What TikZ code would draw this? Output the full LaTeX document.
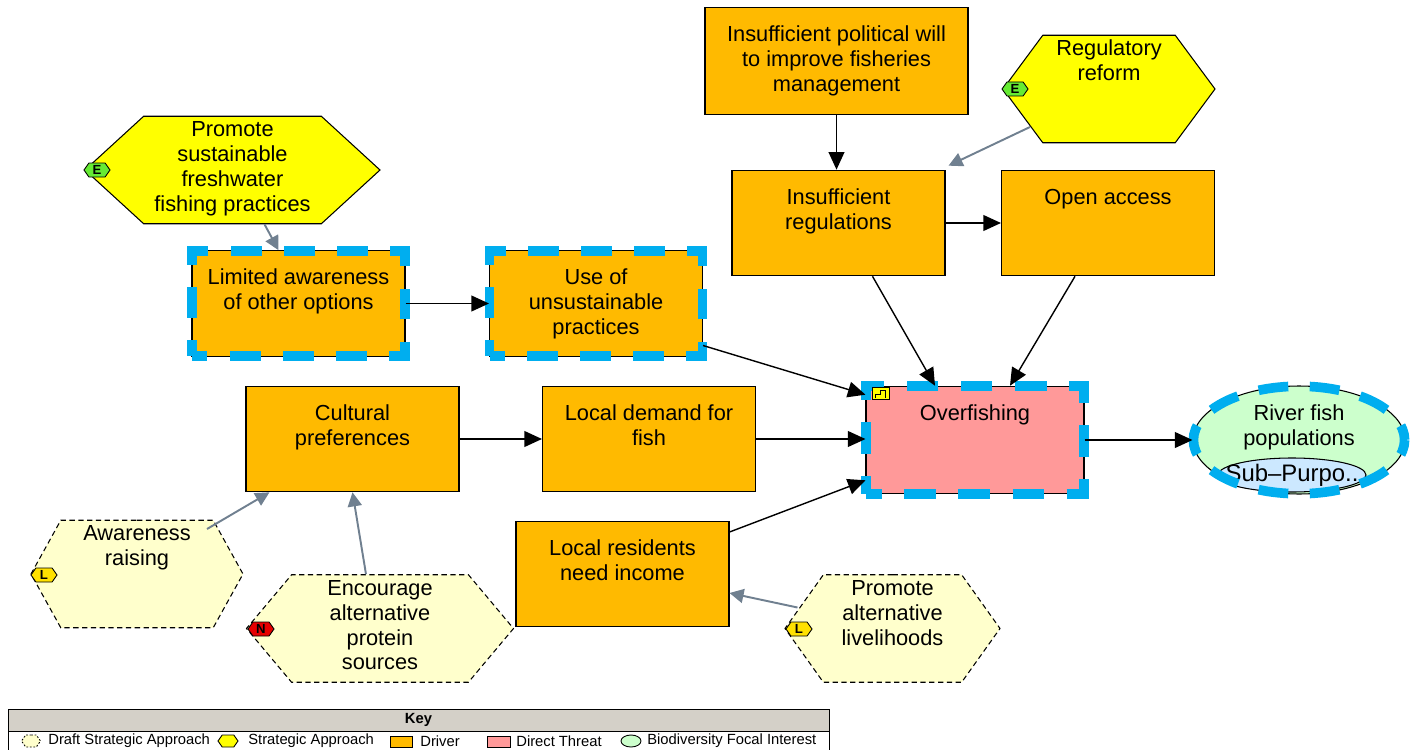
\documentclass[tikz,border=0pt]{standalone}
\usepackage{fontspec}
\setmainfont{Liberation Sans}
\usepackage{tikz}
\usetikzlibrary{arrows.meta, positioning, shapes.geometric, shapes.symbols}
\definecolor{cmdriver}{RGB}{255, 186, 0}
\definecolor{cmthreat}{RGB}{255, 153, 153}
\definecolor{cmstrategy}{RGB}{255, 255, 0}
\definecolor{cmdraft}{RGB}{255, 255, 204}
\definecolor{cmfocal}{RGB}{204, 255, 204}
\definecolor{cmsub}{RGB}{204, 232, 255}
\definecolor{cmselect}{RGB}{0, 174, 239}
\definecolor{cmlink}{RGB}{112, 128, 144}
\definecolor{cmkey}{RGB}{212, 208, 200}
\definecolor{cmgreen}{RGB}{102, 235, 51}
\definecolor{cmred}{RGB}{230, 0, 0}
\definecolor{cmbadge}{RGB}{255, 225, 0}
\newcommand{\pxl}{0.02cm}

\begin{document}
\begin{tikzpicture}[x=0.02cm, y=-0.02cm,
    txt/.style={font=\fontsize{12.4}{14.2}\selectfont, align=center},
    driver/.style={txt, rectangle, draw, line width=0.6pt, fill=cmdriver,
        minimum width=213*\pxl, inner xsep=2pt, inner ysep=0pt,
        text height={19.3pt+(#1-1)*14.2pt}, text depth={40.8pt-(#1-1)*14.2pt}},
    driver/.default=1,
    threat/.style={driver, fill=cmthreat, minimum width=218*\pxl, text depth=41.9pt},
    selband/.style={draw=cmselect, line width=5.5pt},
    selected/.style={postaction={selband, dash pattern=on 17.6pt off 12.6pt, dash phase=8.8pt}},
    hexa/.style={txt, signal, signal to=west and east, draw, line width=0.6pt,
        inner xsep=2pt, inner ysep=0pt,
        text height={11.6pt+(#1-1)*14.2pt}, text depth={49.6pt-(#1-1)*14.2pt}},
    strategy/.style={hexa=#1, fill=cmstrategy},
    draft/.style={hexa=#1, fill=cmdraft, dash pattern=on 3pt off 2pt},
    badge/.style={signal, signal to=west and east, signal pointer angle=110,
        draw, line width=0.5pt, minimum width=26*\pxl, minimum height=14*\pxl,
        inner sep=0pt, font=\fontsize{7.5}{7.5}\selectfont\bfseries},
    focal/.style={txt, ellipse, draw, line width=0.6pt, fill=cmfocal,
        minimum width=212*\pxl, minimum height=108*\pxl, inner sep=0pt,
        text height=23.2pt, text depth=17.5pt},
    link/.style={-{Triangle[length=10pt, width=9pt]}, line width=0.8pt},
    weaklink/.style={-{Triangle[length=8pt, width=8pt]}, line width=1.1pt, color=cmlink},
    keytxt/.style={font=\fontsize{8.4}{9}\selectfont, anchor=west, inner sep=0pt}
]
\useasboundingbox (0,0) rectangle (1416,750);

% Drivers and threat
\node[driver=3, minimum width=263*\pxl, text depth=13.5pt] (will) at (836.5,61) {Insufficient political will\\to improve fisheries\\management};
\node[driver=2] (regs) at (838.5,223) {Insufficient\\regulations};
\node[driver] (open) at (1108,223) {Open access};
\node[driver=2, selected] (aware) at (298.5,303.5) {Limited awareness\\of other options};
\node[driver=3, selected] (practice) at (596,303.5) {Use of\\unsustainable\\practices};
\node[driver=2] (culture) at (352.5,439) {Cultural\\preferences};
\node[driver=2] (demand) at (649,439) {Local demand for\\fish};
\node[threat, postaction={selband, dash pattern=on 18pt off 12.8pt, dash phase=9pt}] (over) at (975,440) {Overfishing};
\node[driver=2] (income) at (622.5,574) {Local residents\\need income};

% Threat rating flag
\node[draw, fill=cmstrategy, line width=0.4pt, minimum width=17*\pxl, minimum height=12*\pxl, inner sep=0pt] (hflag) at (881,393) {};
\draw[line width=0.5pt] ([shift={(3,-1)}]hflag.south west) -- ++(0,-4) -- ++(5,0) -- ++(0,-4) -- ++(5,0) -- ++(0,8);

% Focal interest
\node[focal] (river) at (1299,440) {River fish\\populations};
\node[ellipse, draw, line width=0.6pt, fill=cmsub, minimum width=148*\pxl, minimum height=34*\pxl, inner sep=0pt, font=\fontsize{13.6}{14}\selectfont] (sub) at (1292,475) {\makebox[0pt]{Sub–Purpo..}};
\draw[selband, dash pattern=on 17pt off 12.25pt, dash phase=8.5pt] (river.center) ellipse [x radius=60.1pt, y radius=30.6pt];

% Strategies
\node[strategy=2, minimum width=212*\pxl, signal pointer angle=107] (reform) at (1109,89) {Regulatory\\reform};
\node[strategy=4, minimum width=295*\pxl, signal pointer angle=85] (fishing) at (232.5,170) {Promote\\sustainable\\freshwater\\fishing practices};
\node[draft=2, minimum width=212*\pxl, signal pointer angle=122] (raising) at (137,574) {Awareness\\raising};
\node[draft=4, minimum width=267*\pxl, signal pointer angle=100] (protein) at (380,628.5) {Encourage\\alternative\\protein\\sources};
\node[draft=3, minimum width=215*\pxl, signal pointer angle=109] (livelihood) at (892.5,628.5) {Promote\\alternative\\livelihoods};

% Badges
\node[badge, fill=cmgreen] (bfishing) at (97,170) {E};
\node[badge, fill=cmgreen] (breform) at (1015,89) {E};
\node[badge, fill=cmbadge] (braising) at (44,575) {L};
\node[badge, fill=cmred] (bprotein) at (261,629) {N};
\node[badge, fill=cmbadge] (blivelihood) at (799,629) {L};

% Links
\draw[link] (will.south) -- (will.south |- regs.north);
\draw[link] (regs) -- (open);
\draw[link] (aware) -- (practice);
\draw[link] ([shift={(0,42)}]practice.east) -- ([shift={(0,9)}]over.north west);
\draw[link] ([shift={(34,0)}]regs.south) -- ([shift={(-40,0)}]over.north);
\draw[link] ([shift={(-33,0)}]open.south) -- ([shift={(35,0)}]over.north);
\draw[link] (culture) -- (demand);
\draw[link] (demand) -- (demand -| over.west);
\draw[link] ([shift={(0,-42)}]income.east) -- ([shift={(0,-14)}]over.south west);
\draw[link] (over) -- (river);
\draw[weaklink] ([shift={(-79,38)}]reform.center) -- ([shift={(3,-4)}]regs.north east);
\draw[weaklink] ([shift={(32,0)}]fishing.south) -- ([shift={(-20,0)}]aware.north);
\draw[weaklink] ([shift={(70,-45)}]raising.center) -- ([shift={(24,0)}]culture.south west);
\draw[weaklink] ([shift={(-14,0)}]protein.north) -- (culture.south);
\draw[weaklink] ([shift={(-95,-21)}]livelihood.center) -- ([shift={(0,19)}]income.east);

% Key
\node[draw, fill=cmkey, line width=0.5pt, minimum width=821*\pxl, minimum height=22*\pxl, inner sep=0pt, font=\fontsize{8.4}{9}\selectfont\bfseries] (keyhead) at (418.5,720) {Key};
\node[draw, fill=white, line width=0.5pt, minimum width=821*\pxl, minimum height=22*\pxl, inner sep=0pt, anchor=north] (keyrow) at (keyhead.south) {};
\node[badge, fill=cmdraft, dash pattern=on 1pt off 1pt, minimum width=19*\pxl, minimum height=12*\pxl] (kdraft) at (31,741) {};
\node[keytxt] (kdrafttxt) at (48,741) {Draft Strategic Approach};
\node[badge, fill=cmstrategy, minimum width=20*\pxl, minimum height=12*\pxl] (kstrat) at (228,741) {};
\node[keytxt] (kstrattxt) at (248,741) {Strategic Approach};
\node[draw, fill=cmdriver, line width=0.5pt, minimum width=22*\pxl, minimum height=11*\pxl, inner sep=0pt] (kdriver) at (401,741.5) {};
\node[keytxt] (kdrivertxt) at (420,741) {Driver};
\node[draw, fill=cmthreat, line width=0.5pt, minimum width=23*\pxl, minimum height=11*\pxl, inner sep=0pt] (kthreat) at (498.5,741.5) {};
\node[keytxt] (kthreattxt) at (516,741) {Direct Threat};
\node[ellipse, draw, fill=cmfocal, line width=0.5pt, minimum width=20*\pxl, minimum height=12*\pxl, inner sep=0pt] (kfocal) at (631,741) {};
\node[keytxt] (kfocaltxt) at (647,741) {Biodiversity Focal Interest};
\end{tikzpicture}
\end{document}
